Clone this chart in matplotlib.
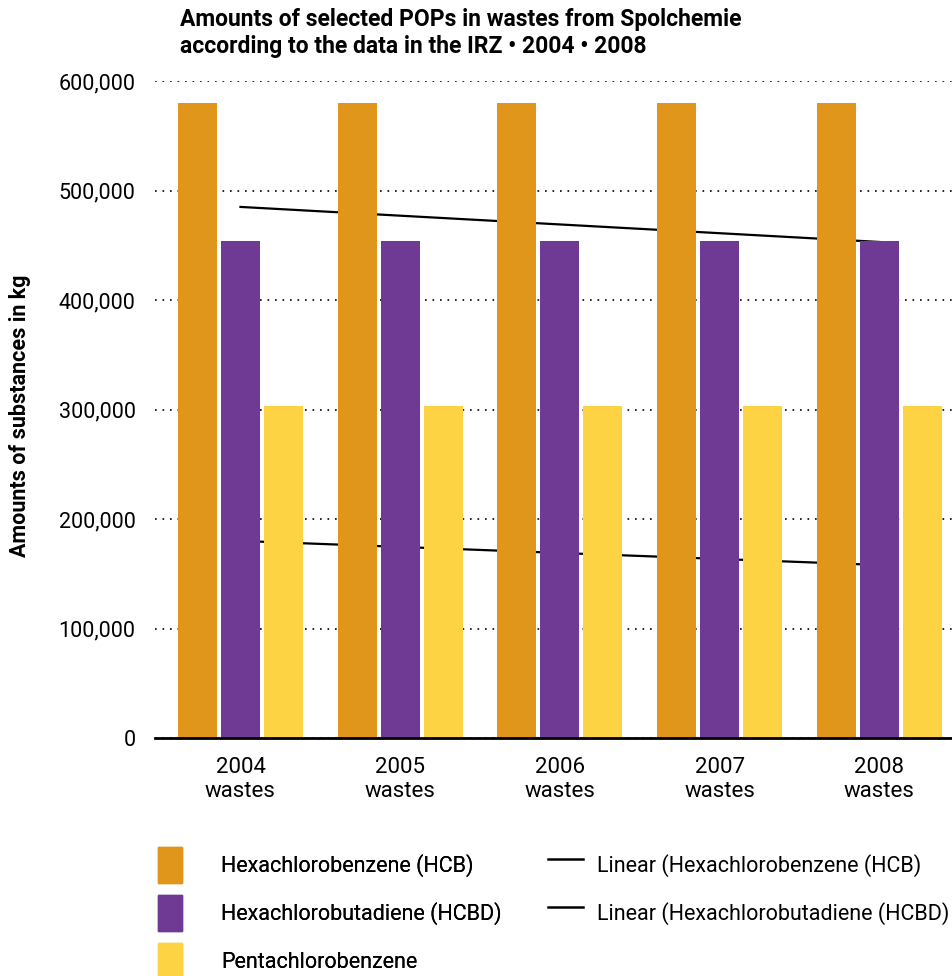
import numpy as np
import matplotlib.pyplot as plt
from matplotlib.patches import Patch
from matplotlib.lines import Line2D

plt.rcParams["font.family"] = ["Roboto", "DejaVu Sans"]

# data
years = ["2004", "2005", "2006", "2007", "2008"]
hcb = [580000, 580000, 580000, 580000, 580000]
hcbd = [454000, 454000, 454000, 454000, 454000]
penta = [303000, 303000, 303000, 303000, 303000]
# trend lines as shown (endpoints at 2004 and 2008)
trend_hcb = [485000, 453000]
trend_hcbd = [180000, 158000]

series_names = ["Hexachlorobenzene (HCB)", "Hexachlorobutadiene (HCBD)", "Pentachlorobenzene"]
trend_names = ["Linear (Hexachlorobenzene (HCB)", "Linear (Hexachlorobutadiene (HCBD)"]
colors = ["#E0961B", "#6F3A94", "#FDD343"]

fig = plt.figure(figsize=(9.53, 9.76), dpi=100)
ax = fig.add_axes([155 / 953, 1 - 738 / 976, 800 / 953, (738 - 81) / 976])

x = np.arange(len(years))
width = 0.244
step = 0.269

# trend lines sit behind the bars
ax.plot([x[0], x[-1]], trend_hcb, color="black", lw=1.6, zorder=1)
ax.plot([x[0], x[-1]], trend_hcbd, color="black", lw=1.6, zorder=1)

for i, vals in enumerate([hcb, hcbd, penta]):
    ax.bar(x + (i - 1) * step, vals, width, color=colors[i], zorder=3)

ax.set_xlim(-0.535, 4.473)
ax.set_ylim(0, 600000)
ticks = list(range(0, 600001, 100000))
ax.set_yticks(ticks)
ax.set_yticklabels([f"{v:,}" for v in ticks], fontsize=15.5)
ax.set_xticks(x)
ax.set_xticklabels([f"{y}\nwastes" for y in years], fontsize=16, linespacing=1.15)
ax.tick_params(axis="y", length=0, pad=14)
ax.tick_params(axis="x", length=0, pad=14)

ax.grid(axis="y", linestyle=(0, (1, 3.5)), color="black", lw=1.2, zorder=0)
ax.set_axisbelow(True)
for s in ["top", "right", "left"]:
    ax.spines[s].set_visible(False)
ax.spines["bottom"].set_linewidth(2)
ax.spines["bottom"].set_zorder(4)

ax.set_ylabel("Amounts of substances in kg", fontsize=15.5, fontweight="bold")
ax.yaxis.set_label_coords(-0.155, 0.49)

fig.text(180 / 953, 1 - 8 / 976,
         "Amounts of selected POPs in wastes from Spolchemie\naccording to the data in the IRZ \u2022 2004 \u2022 2008",
         fontsize=16.5, fontweight="bold", va="top", ha="left", linespacing=1.2)

bar_handles = [Patch(color=c) for c in colors]
leg1 = fig.legend(bar_handles, series_names, loc="upper left",
                  bbox_to_anchor=(158 / 953, 1 - 847 / 976), frameon=False,
                  borderpad=0, borderaxespad=0,
                  fontsize=15.5, handlelength=1.12, handleheight=2.2,
                  handletextpad=1.8, labelspacing=0.56)
line_handles = [Line2D([], [], color="black", lw=1.8) for _ in trend_names]
fig.legend(line_handles, trend_names,
           loc="upper left", bbox_to_anchor=(548 / 953, 1 - 847 / 976), frameon=False,
           borderpad=0, borderaxespad=0,
           fontsize=15.5, handlelength=1.63, handleheight=2.2,
           handletextpad=0.65, labelspacing=0.56)
fig.add_artist(leg1)

fig.savefig("out.png", dpi=100)
